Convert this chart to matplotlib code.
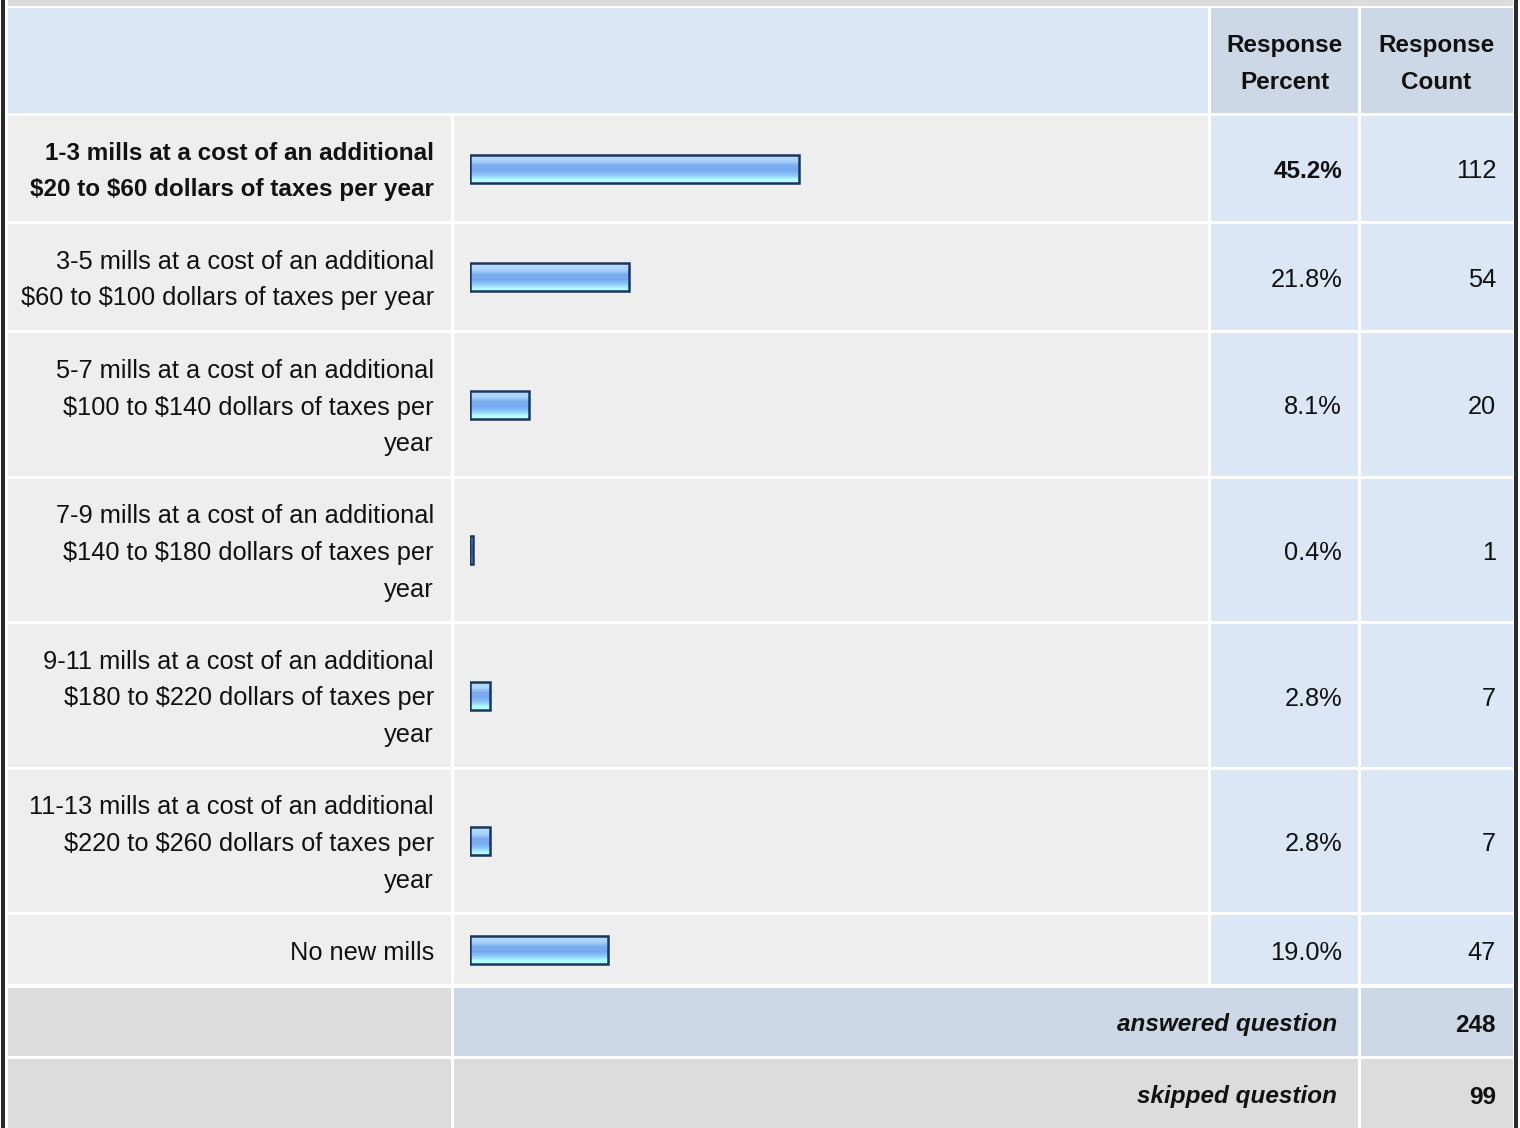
import numpy as np
import matplotlib
matplotlib.use("Agg")
import matplotlib.pyplot as plt
from matplotlib import font_manager
from matplotlib.patches import Rectangle

# pick an Arial-like family by its registered name
names = sorted({f.name for f in font_manager.fontManager.ttflist})
family = 'DejaVu Sans'
for want in ['Liberation Sans', 'Arimo', 'Arial']:
    if want in names:
        family = want
        break
plt.rcParams['font.family'] = [family, 'DejaVu Sans']
plt.rcParams['text.parse_math'] = False

# survey answers
labels = [
    "1-3 mills at a cost of an additional\n$20 to $60 dollars of taxes per year",
    "3-5 mills at a cost of an additional\n$60 to $100 dollars of taxes per year",
    "5-7 mills at a cost of an additional\n$100 to $140 dollars of taxes per\nyear",
    "7-9 mills at a cost of an additional\n$140 to $180 dollars of taxes per\nyear",
    "9-11 mills at a cost of an additional\n$180 to $220 dollars of taxes per\nyear",
    "11-13 mills at a cost of an additional\n$220 to $260 dollars of taxes per\nyear",
    "No new mills",
]
percents = [45.2, 21.8, 8.1, 0.4, 2.8, 2.8, 19.0]
counts = [112, 54, 20, 1, 7, 7, 47]
answered = 248
skipped = 99

W, H = 1520, 1128
fig = plt.figure(figsize=(W / 100, H / 100), dpi=100)
ax = fig.add_axes([0, 0, 1, 1])
ax.set_xlim(0, W)
ax.set_ylim(H, 0)
ax.axis('off')

C_LIGHT = '#dce7f5'
C_HEAD = '#ccd8e5'
C_GREY = '#eeeeee'
C_DARK = '#dcdcdc'
FS = 18.3   # regular text
FSB = 17.5  # bold text
LS = 1.66
LSB = 1.76
TXT = '#111111'

def cell(x0, y0, x1, y1, color):
    ax.add_patch(Rectangle((x0, y0), x1 - x0, y1 - y0, facecolor=color, edgecolor='none'))

# column edges
cols = [(8, 451), (454, 1208), (1211, 1358), (1361, 1513)]

ax.add_patch(Rectangle((0, 0), W, H, facecolor='white', edgecolor='none'))
# top band
cell(8, 0, 1513, 6, C_DARK)
# header row
cell(8, 8, 1208, 113, C_LIGHT)
cell(1211, 8, 1358, 113, C_HEAD)
cell(1361, 8, 1513, 113, C_HEAD)
ax.text(1285, 64, "Response\nPercent", ha='center', va='center', fontsize=FSB,
        fontweight='bold', linespacing=LSB, color=TXT)
ax.text(1436, 64, "Response\nCount", ha='center', va='center', fontsize=FSB,
        fontweight='bold', linespacing=LSB, color=TXT)

# row extents
rows = [(116, 221), (224, 330), (333, 476), (479, 621), (624, 767), (770, 912), (915, 984)]
centers = []
for i, (y0, y1) in enumerate(rows):
    cell(cols[0][0], y0, cols[0][1], y1, C_GREY)
    cell(cols[1][0], y0, cols[1][1], y1, C_GREY)
    cell(cols[2][0], y0, cols[2][1], y1, C_LIGHT)
    cell(cols[3][0], y0, cols[3][1], y1, C_LIGHT)
    yc = (y0 + y1) / 2
    centers.append(yc)
    bold = 'bold' if i == 0 else 'normal'
    fs = FSB if i == 0 else FS
    ls = LSB if i == 0 else LS
    ax.text(434, yc + 3, labels[i], ha='right', va='center', multialignment='right',
            fontsize=fs, fontweight=bold, linespacing=ls, color=TXT)
    ax.text(1342, yc + 3, f"{percents[i]:.1f}%", ha='right', va='center',
            fontsize=fs, fontweight=bold, color=TXT)
    ax.text(1496, yc + 3, str(counts[i]), ha='right', va='center',
            fontsize=FS, color=TXT)

# answered / skipped rows
cell(8, 988, 451, 1056, C_DARK)
cell(454, 988, 1358, 1056, C_HEAD)
cell(1361, 988, 1513, 1056, C_HEAD)
cell(8, 1059, 451, H, C_DARK)
cell(454, 1059, 1358, H, C_DARK)
cell(1361, 1059, 1513, H, C_DARK)
ax.text(1337, 1025, "answered question", ha='right', va='center', fontsize=FSB,
        fontweight='bold', fontstyle='italic', color=TXT)
ax.text(1496, 1025, str(answered), ha='right', va='center', fontsize=FSB,
        fontweight='bold', color=TXT)
ax.text(1337, 1097, "skipped question", ha='right', va='center', fontsize=FSB,
        fontweight='bold', fontstyle='italic', color=TXT)
ax.text(1496, 1097, str(skipped), ha='right', va='center', fontsize=FSB,
        fontweight='bold', color=TXT)

# outer borders
ax.add_patch(Rectangle((1, 0), 4, H, facecolor='#2a2a2a', edgecolor='none'))
ax.add_patch(Rectangle((1514, 0), 4, H, facecolor='#2a2a2a', edgecolor='none'))

# bar axes: 0..100 % spans x 470..1198 px
bx = fig.add_axes([470 / W, 0, 728 / W, 1])
bx.set_xlim(0, 100)
bx.set_ylim(H, 0)
bx.axis('off')
bx.patch.set_alpha(0)

grad = np.array([[0.72, 0.86, 1.0], [0.66, 0.82, 0.99], [0.48, 0.68, 0.94],
                 [0.46, 0.67, 0.94], [0.55, 0.78, 0.98], [0.70, 1.0, 1.0]])
grad = grad[:, None, :]
bars = bx.barh(centers, percents, height=28, facecolor='none',
               edgecolor='#1c355e', linewidth=1.8, zorder=3)
for b in bars:
    x0, y0 = b.get_x(), b.get_y()
    w, h = b.get_width(), b.get_height()
    im = bx.imshow(grad, extent=(x0, x0 + w, y0 + h, y0), aspect='auto',
                   interpolation='bilinear', zorder=2)
    im.set_clip_path(b)

fig.savefig("out.png", dpi=100)
